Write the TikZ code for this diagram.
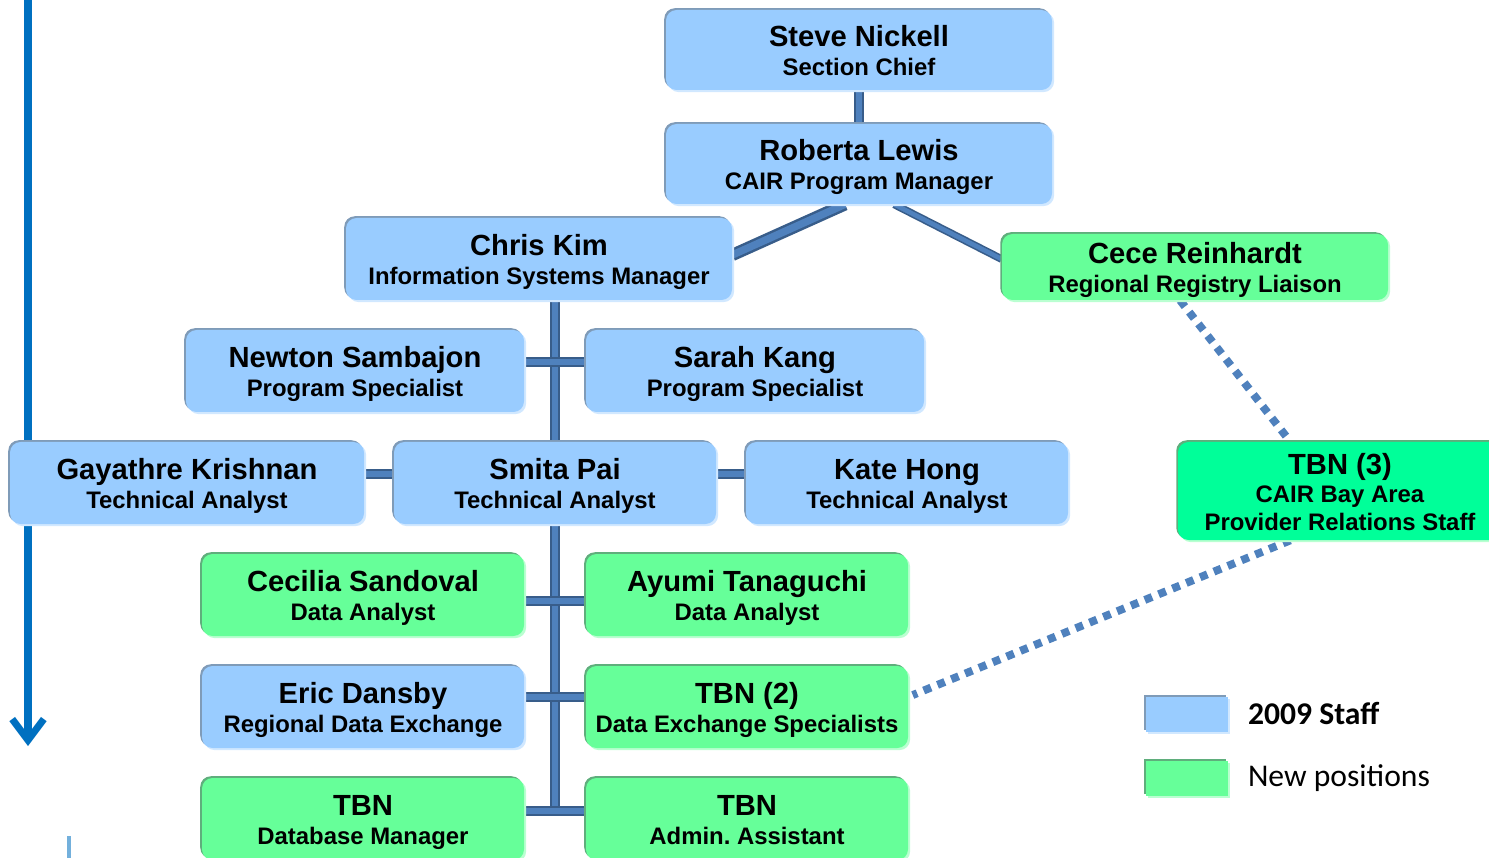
\documentclass[tikz,border=0pt]{standalone}
\usepackage{fontspec}
\setmainfont{Liberation Sans}
\newfontfamily\legendfont{Carlito}
\usetikzlibrary{positioning,calc,shadows,backgrounds,arrows.meta}

\definecolor{staffblue}{HTML}{99CCFF}
\definecolor{newgreen}{HTML}{66FF99}
\definecolor{baygreen}{HTML}{00FF99}
\definecolor{rimblue}{HTML}{7F9BB8}
\definecolor{rimgreen}{HTML}{5FAE7C}
\definecolor{linkblue}{HTML}{4F81BD}
\definecolor{linkdark}{HTML}{385D8A}
\definecolor{arrowblue}{HTML}{0070C0}

\def\px{0.02cm}
% name line over title line, with struts so every box sets them alike
\newcommand{\who}[2]{{\fontsize{16.6}{16.5}\selectfont\rule{0pt}{17pt}#1}\\#2\rule[-4pt]{0pt}{4pt}}

\tikzset{
	box/.style={rectangle, rounded corners=6pt, inner sep=0pt, align=center,
		font=\bfseries\fontsize{13.6}{16.5}\selectfont},
	boxsize/.style 2 args={minimum width=#1*\px, minimum height=#2*\px},
	staff/.style={box, fill=staffblue,
		general shadow={fill=rimblue, shadow xshift=-1pt, shadow yshift=1pt},
		general shadow={fill=staffblue!45!white, shadow xshift=1.2pt, shadow yshift=-1.2pt}},
	newpos/.style={box, fill=newgreen,
		general shadow={fill=rimgreen, shadow xshift=-1pt, shadow yshift=1pt},
		general shadow={fill=newgreen!45!white, shadow xshift=1.2pt, shadow yshift=-1.2pt}},
	link/.style={draw=linkdark, line width=1.2pt, double=linkblue, double distance=3.6pt},
	dotlink/.style={draw=linkblue, line width=4.5pt, dash pattern=on 4.5pt off 4pt},
	timeline/.style={draw=arrowblue, line width=4pt, -{Straight Barb[length=12pt,width=18pt]}}
}

\begin{document}
\begin{tikzpicture}[x=0.02cm, y=-0.02cm]
	\useasboundingbox (0,0) rectangle (1489,858);
	\clip (0,0) rectangle (1489,858);
	
	%timeline arrow
	\coordinate (arrtop) at (28,-5);
	\coordinate (arrend) at (28,746);
	\draw[timeline] (arrtop) -- (arrend);
	\coordinate (fragtop) at (69,836);
	\coordinate (fragbot) at (69,862);
	\draw[arrowblue!55, line width=1.8pt] (fragtop) -- (fragbot);
	
	%boxes
	\node[staff, boxsize={386}{80}] (steve) at (859,50) {\who{Steve Nickell}{Section Chief}};
	\node[staff, boxsize={386}{80}] (roberta) at (859,164) {\who{Roberta Lewis}{CAIR Program Manager}};
	\node[staff, boxsize={386}{82}] (chris) at (539,259) {\who{Chris Kim}{Information Systems Manager}};
	\node[newpos, boxsize={386}{66}] (cece) at (1195,267) {\who{Cece Reinhardt}{Regional Registry Liaison}};
	\node[staff, boxsize={338}{82}] (newton) at (355,371) {\who{Newton Sambajon}{Program Specialist}};
	\node[staff, boxsize={338}{82}] (sarah) at (755,371) {\who{Sarah Kang}{Program Specialist}};
	\node[staff, boxsize={354}{82}] (gaya) at (187,483) {\who{Gayathre Krishnan}{Technical Analyst}};
	\node[staff, boxsize={322}{82}] (smita) at (555,483) {\who{Smita Pai}{Technical Analyst}};
	\node[staff, boxsize={322}{82}] (kate) at (907,483) {\who{Kate Hong}{Technical Analyst}};
	\node[newpos, fill=baygreen, boxsize={324}{98}, font=\bfseries\fontsize{13.6}{16}\selectfont] (tbnthree) at (1340,491)
		{{\fontsize{16.6}{16}\selectfont\rule{0pt}{17pt}TBN (3)}\\CAIR Bay Area\\Provider Relations Staff\rule[-4pt]{0pt}{4pt}};
	\node[newpos, boxsize={322}{82}] (cecilia) at (363,595) {\who{Cecilia Sandoval}{Data Analyst}};
	\node[newpos, boxsize={322}{82}] (ayumi) at (747,595) {\who{Ayumi Tanaguchi}{Data Analyst}};
	\node[staff, boxsize={322}{82}] (eric) at (363,707) {\who{Eric Dansby}{Regional Data Exchange}};
	\node[newpos, boxsize={322}{82}] (tbntwo) at (747,707) {\who{TBN (2)}{Data Exchange Specialists}};
	\node[newpos, boxsize={322}{82}] (tbndb) at (363,819) {\who{TBN}{Database Manager}};
	\node[newpos, boxsize={322}{82}] (tbnadmin) at (747,819) {\who{TBN}{Admin.\ Assistant}};
	
	%legend
	\node[staff, rounded corners=0pt, boxsize={82}{35}] (legstaff) at (1187,714) {};
	\node[newpos, rounded corners=0pt, boxsize={82}{35}] (legnew) at (1187,778) {};
	\node[right=11pt of legstaff, inner sep=0pt, font=\legendfont\bfseries\fontsize{18}{20}\selectfont] (legstafftxt) {2009 Staff};
	\node[right=11pt of legnew, inner sep=0pt, font=\legendfont\fontsize{18}{20}\selectfont] (legnewtxt) {New positions};
	
	%connectors
	\begin{scope}[on background layer]
		\coordinate (trunkend) at ($([yshift=4.5pt]tbndb.east)!0.5!([yshift=4.5pt]tbnadmin.west)$);
		\draw[link] (steve) -- (roberta);
		\draw[link, line width=1.4pt, double distance=4.2pt] ([xshift=-8pt]roberta.south) -- ([yshift=2.3pt]chris.east);
		\draw[link, line width=0.9pt, double distance=2.6pt] ([xshift=20pt]roberta.south) -- ([yshift=4.5pt]cece.west);
		\draw[link] (chris.south -| trunkend) -- (trunkend);
		\draw[link] ([yshift=5pt]newton.east) -- ([yshift=5pt]sarah.west);
		\draw[link] ([yshift=5pt]gaya.east) -- ([yshift=5pt]smita.west);
		\draw[link] ([yshift=5pt]smita.east) -- ([yshift=5pt]kate.west);
		\draw[link] ([yshift=-3.4pt]cecilia.east) -- ([yshift=-3.4pt]ayumi.west);
		\draw[link] ([yshift=5.7pt]eric.east) -- ([yshift=5.7pt]tbntwo.west);
		\draw[link] ([yshift=4.5pt]tbndb.east) -- ([yshift=4.5pt]tbnadmin.west);
		
		%dotted lines
		\draw[dotlink] ([xshift=-8.5pt]cece.south) -- ([xshift=-28.3pt]tbnthree.north);
		\draw[dotlink] ([xshift=-28.3pt]tbnthree.south) -- ([xshift=2.5pt, yshift=6.8pt]tbntwo.east);
	\end{scope}
\end{tikzpicture}
\end{document}
